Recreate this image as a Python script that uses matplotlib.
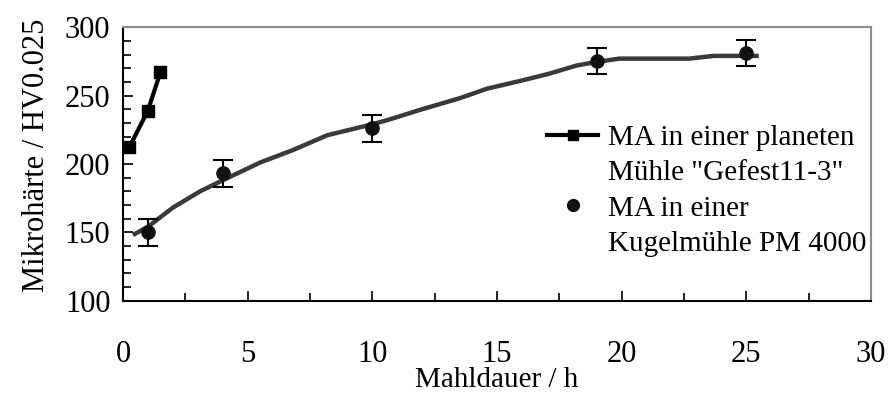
import matplotlib
matplotlib.use("Agg")
import matplotlib.pyplot as plt
from matplotlib.ticker import MultipleLocator
from matplotlib.lines import Line2D

# Data
sq_x = [0.25, 1.0, 1.5]
sq_y = [212, 239, 267]

pt_x = [1, 4, 10, 19, 25]
pt_y = [150, 193, 226, 275, 281]
pt_err = [10, 10, 10, 9.5, 9.5]

fit_x = [0.4, 1.0, 2.0, 3.1, 4.0, 5.5, 6.8, 8.2, 10.0, 10.6, 12.0, 13.5, 14.6, 16.0, 17.1, 18.2, 19.0, 19.9, 21.0, 22.7, 23.7, 25.5]
fit_y = [148, 154, 168, 180, 188, 201, 210, 221, 229, 232, 240, 248, 255, 261, 266, 272, 274.6, 277, 277, 277, 279, 279]

label_sq = ['MA in einer planeten', 'Mühle "Gefest11-3"']
label_pt = ['MA in einer', 'Kugelmühle PM 4000']
xlabel = "Mahldauer / h"
ylabel = "Mikrohärte / HV0.025"

plt.rcParams['font.family'] = ['Liberation Serif', 'DejaVu Serif']

fig = plt.figure(figsize=(8.91, 3.94), dpi=100)
ax = fig.add_axes([0.138, 0.237, 0.8395, 0.694])

ax.plot(fit_x, fit_y, color='#3a3a3a', lw=3.2, solid_capstyle='butt', zorder=2)
ax.plot(sq_x, sq_y, color='black', lw=3, marker='s', ms=8.5, zorder=3)
ax.errorbar(pt_x, pt_y, yerr=pt_err, fmt='o', color='#111111', ms=9.5,
            ecolor='black', elinewidth=1.5, capsize=7, capthick=1.5, zorder=4)

ax.set_xlim(0, 30)
ax.set_ylim(100, 300)
ax.xaxis.set_major_locator(MultipleLocator(5))
ax.xaxis.set_minor_locator(MultipleLocator(2.5))
ax.yaxis.set_major_locator(MultipleLocator(50))
ax.yaxis.set_minor_locator(MultipleLocator(10))
ax.tick_params(axis='both', which='both', direction='in', top=False, right=False,
               labelsize=22, width=1.2, color='black')
ax.tick_params(axis='x', which='major', length=7.5, pad=28)
ax.tick_params(axis='x', which='minor', length=6)
ax.tick_params(axis='y', which='major', length=7, pad=9)
ax.tick_params(axis='y', which='minor', length=6)

for s in ['left', 'bottom']:
    ax.spines[s].set_color('black')
    ax.spines[s].set_linewidth(1.5)
for s in ['top', 'right']:
    ax.spines[s].set_color('#8c8c8c')
    ax.spines[s].set_linewidth(1.5)

ax.set_xlabel(xlabel, fontsize=21, va='center')
ax.xaxis.set_label_coords(0.5, -0.29)
ax.set_ylabel(ylabel, fontsize=22, va='center')
ax.yaxis.set_label_coords(-0.115, 0.53)

h_sq = Line2D([], [], color='black', lw=3, marker='s', ms=7.5)
h_pt = Line2D([], [], color='#111111', ls='none', marker='o', ms=8.5)
h_blank = Line2D([], [], color='none')
leg = ax.legend([h_sq, h_blank, h_pt, h_blank],
                [label_sq[0], label_sq[1], label_pt[0], label_pt[1]],
                loc='upper left', bbox_to_anchor=(0.567, 0.643), frameon=False,
                fontsize=21, handlelength=1.75, handletextpad=0.35,
                labelspacing=0.3, borderaxespad=0, borderpad=0)

fig.savefig("out.png", dpi=100)
